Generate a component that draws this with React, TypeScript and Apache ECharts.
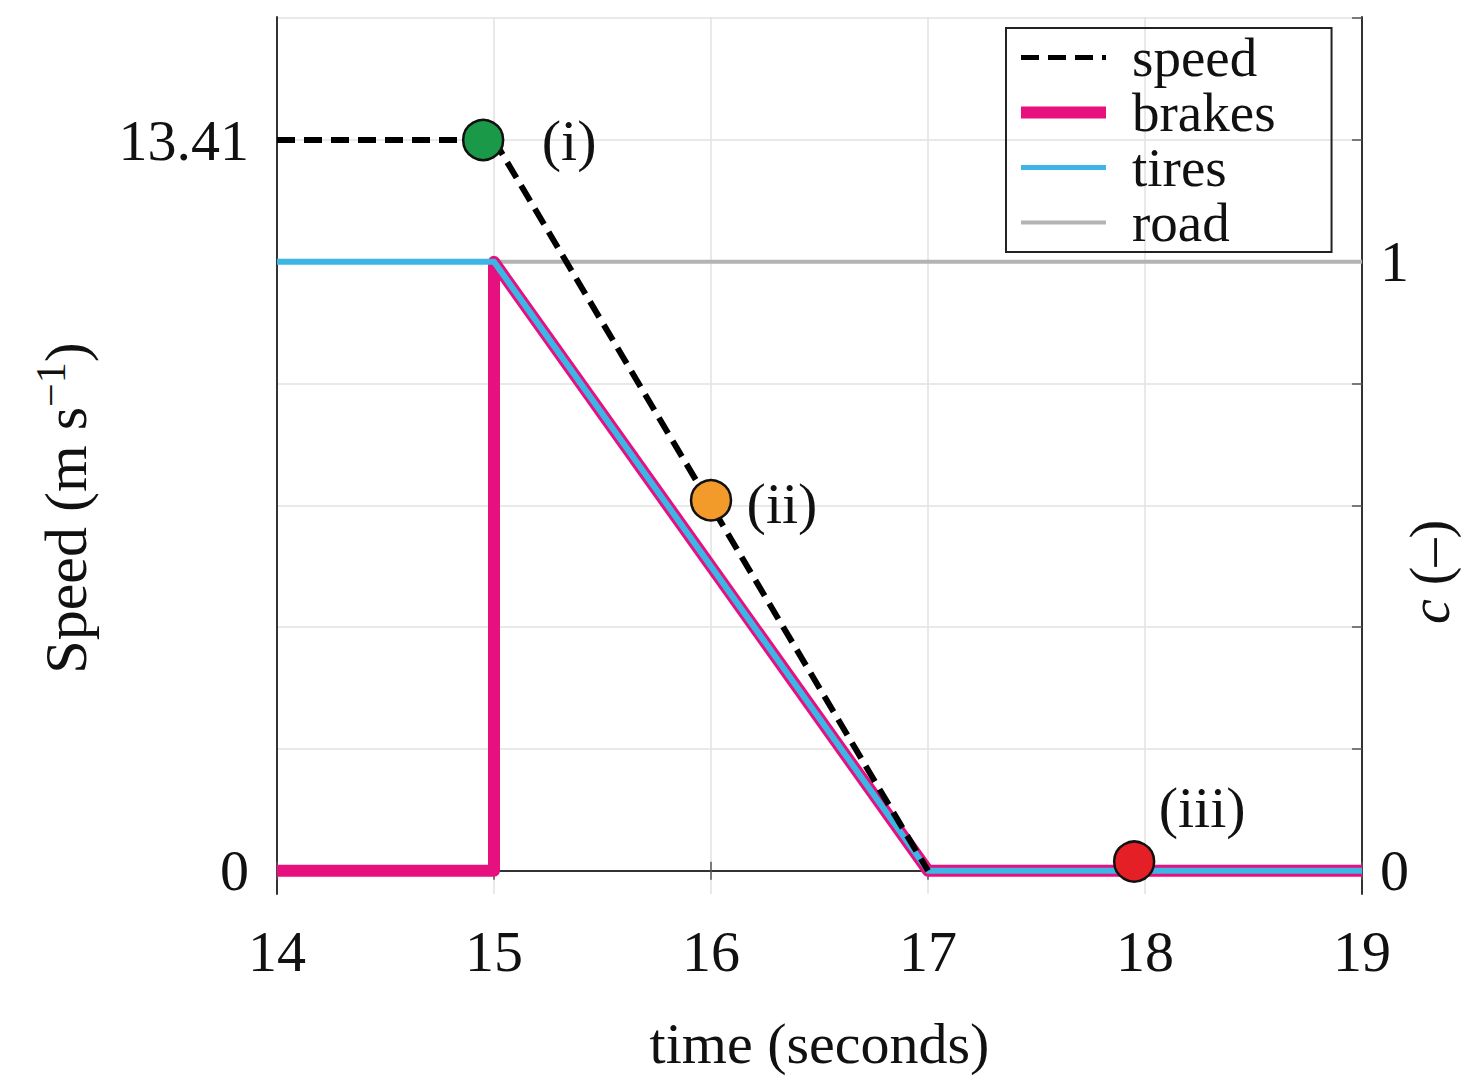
import React, { useEffect, useRef } from 'react';
import * as echarts from 'echarts';

// ---- data ----
const speedTime = [14, 15, 17];
const speedValue = [13.41, 13.41, 0];
const brakesTime = [14, 15, 15, 17, 19];
const brakesValue = [0, 0, 1, 0, 0];
const tiresTime = [14, 15, 17, 19];
const tiresValue = [1, 1, 0, 0];
const roadTime = [14, 19];
const roadValue = [1, 1];
const eventNames = ['(i)', '(ii)', '(iii)'];
const eventTime = [14.95, 16.0, 17.95];
const eventSpeed = [13.41, 6.8, 0.17];
const eventColors = ['#1a9a48', '#f29a2a', '#e41f26'];
const speedLabelValues = [0, 13.41];
const cLabelValues = [0, 1];
const cTickValues = [0, 0.2, 0.4, 0.6, 0.8, 1.0, 1.2, 1.4];
const legendNames = ['speed', 'brakes', 'tires', 'road'];

// axis ranges (c axis and matching speed axis: 13.41 m/s aligned with c = 1.2)
const cMin = -0.038;
const cMax = 1.402;
const speedMin = -0.425;
const speedMax = 15.667;

const FONT = 'Liberation Serif';
const zip = (xs: number[], ys: number[]) => xs.map((x, i) => [x, ys[i]]);

export default function App() {
  const ref = useRef<HTMLDivElement>(null);
  useEffect(() => {
    if (!ref.current) return;
    const chart = echarts.init(ref.current, null, { renderer: 'svg' });
    const legendWidths: Record<string, number> = { speed: 5, brakes: 12, tires: 5, road: 4 };
    const option: any = {
      animation: false,
      backgroundColor: '#fff',
      textStyle: { fontFamily: FONT },
      grid: { left: 277, top: 17, right: 103, bottom: 183, containLabel: false },
      legend: {
        orient: 'vertical',
        left: 1006,
        top: 28,
        data: legendNames.map((n) => ({ name: n, lineStyle: { width: legendWidths[n] } })),
        itemWidth: 85,
        itemHeight: 14,
        itemGap: 0,
        padding: [2, 56, 2, 9],
        borderColor: '#222',
        borderWidth: 2,
        itemStyle: { opacity: 0, borderWidth: 0 },
        textStyle: { fontFamily: FONT, fontSize: 55, color: '#111', lineHeight: 54, padding: [0, 0, 0, 21] },
      },
      xAxis: [
        {
          type: 'value',
          min: 14,
          max: 19,
          interval: 1,
          name: 'time (seconds)',
          nameLocation: 'middle',
          nameGap: 120,
          nameTextStyle: { fontFamily: FONT, fontSize: 58, color: '#111' },
          axisLine: { show: true, lineStyle: { color: '#333', width: 2 } },
          axisTick: { show: true, inside: true, length: 9, lineStyle: { color: '#555', width: 1.5 } },
          axisLabel: { fontFamily: FONT, fontSize: 58, color: '#111', margin: 28 },
          splitLine: { show: true, lineStyle: { color: '#e2e2e2', width: 1.5 } },
        },
        {
          type: 'value',
          position: 'top',
          min: 14,
          max: 19,
          interval: 1,
          axisLine: { show: true, lineStyle: { color: '#333', width: 2 } },
          axisTick: { show: true, inside: true, length: 9, lineStyle: { color: '#555', width: 1.5 } },
          axisLabel: { show: false },
          splitLine: { show: false },
        },
      ],
      yAxis: [
        {
          type: 'value',
          position: 'left',
          min: speedMin,
          max: speedMax,
          axisLine: { show: true, lineStyle: { color: '#333', width: 2 } },
          axisTick: { show: false },
          axisLabel: {
            fontFamily: FONT,
            fontSize: 58,
            color: '#111',
            margin: 28,
            customValues: speedLabelValues,
            formatter: (v: number) => String(v),
          },
          splitLine: { show: false },
        },
        {
          type: 'value',
          position: 'right',
          min: cMin,
          max: cMax,
          axisLine: { show: true, lineStyle: { color: '#333', width: 2 } },
          axisTick: { show: true, inside: true, length: 10, customValues: cTickValues, lineStyle: { color: '#555', width: 1.5 } },
          axisLabel: {
            fontFamily: FONT,
            fontSize: 58,
            color: '#111',
            margin: 18,
            customValues: cLabelValues,
            formatter: (v: number) => String(v),
          },
          splitLine: { show: true, lineStyle: { color: '#e2e2e2', width: 1.5 } },
        },
      ],
      graphic: [
        {
          type: 'text',
          x: 66,
          y: 508,
          rotation: Math.PI / 2,
          style: {
            text: '{a|Speed (m s}{s|−1}{a|)}',
            align: 'center',
            verticalAlign: 'middle',
            rich: {
              a: { fontFamily: FONT, fontSize: 60, fill: '#111' },
              s: { fontFamily: FONT, fontSize: 42, fill: '#111', padding: [0, 0, 30, 0] },
            },
          },
        },
        {
          type: 'text',
          x: 1430,
          y: 572,
          rotation: Math.PI / 2,
          style: {
            text: '{i|c} (–)',
            fontFamily: FONT,
            fontSize: 56,
            fill: '#111',
            align: 'center',
            verticalAlign: 'middle',
            rich: { i: { fontFamily: FONT, fontSize: 56, fontStyle: 'italic', fill: '#111' } },
          },
        },
      ],
      series: [
        {
          name: 'road',
          type: 'line',
          xAxisIndex: 0,
          yAxisIndex: 1,
          data: zip(roadTime, roadValue),
          symbol: 'none',
          lineStyle: { color: '#b3b3b3', width: 4 },
          itemStyle: { color: '#b3b3b3' },
          z: 2,
        },
        {
          name: 'brakes',
          type: 'line',
          xAxisIndex: 0,
          yAxisIndex: 1,
          data: zip(brakesTime, brakesValue),
          symbol: 'none',
          lineStyle: { color: '#e6117f', width: 12, join: 'round', cap: 'butt' },
          itemStyle: { color: '#e6117f' },
          z: 3,
        },
        {
          name: 'tires',
          type: 'line',
          xAxisIndex: 0,
          yAxisIndex: 1,
          data: zip(tiresTime, tiresValue),
          symbol: 'none',
          lineStyle: { color: '#3db6e6', width: 6, join: 'round' },
          itemStyle: { color: '#3db6e6' },
          z: 4,
        },
        {
          name: 'speed',
          type: 'line',
          xAxisIndex: 0,
          yAxisIndex: 0,
          data: zip(speedTime, speedValue),
          symbol: 'none',
          lineStyle: { color: '#000', width: 6, type: [18, 9] },
          itemStyle: { color: '#000' },
          z: 5,
        },
        {
          name: 'events',
          type: 'scatter',
          xAxisIndex: 0,
          yAxisIndex: 0,
          symbolSize: 40,
          z: 10,
          data: eventNames.map((n, i) => ({
            value: [eventTime[i], eventSpeed[i]],
            name: n,
            itemStyle: { color: eventColors[i], borderColor: '#111', borderWidth: 2.5, opacity: 1 },
            label: {
              show: true,
              position: 'inside',
              formatter: n,
              offset: i === 0 ? [86, 0] : i === 1 ? [71, 3] : [68, -54],
              fontFamily: FONT,
              fontSize: 58,
              color: '#111',
            },
          })),
        },
      ],
    };
    chart.setOption(option);
    return () => chart.dispose();
  }, []);
  return <div ref={ref} style={{ width: 1465, height: 1077, position: 'absolute', left: 0, top: 0 }} />;
}
